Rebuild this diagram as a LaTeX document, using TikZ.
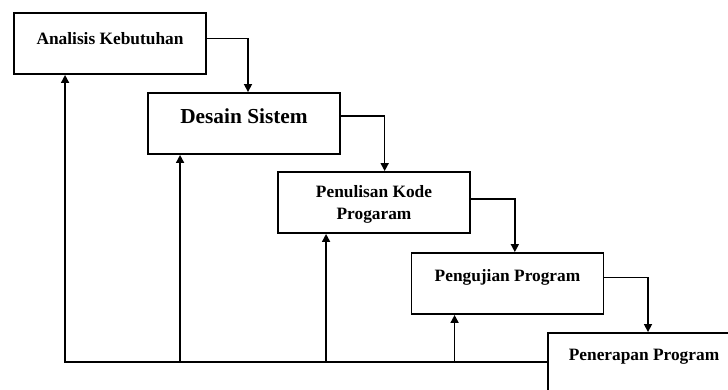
\documentclass[tikz,border=0pt]{standalone}
\usepackage{fontspec}
\setmainfont{Liberation Serif}
\usepackage{tikz}
\usetikzlibrary{arrows.meta, positioning}

\begin{document}
\begin{tikzpicture}[
    x=0.75pt, y=-0.75pt,
    box/.style={rectangle, draw, line width=1.4pt, minimum width=144pt, minimum height=45.75pt, inner sep=0pt},
    lbl/.style={font=\fontsize{13}{16}\selectfont\bfseries, align=center, inner sep=0pt},
    flow/.style={line width=1.2pt, -{Triangle[length=6pt, width=6pt]}}
]
    \useasboundingbox (0,0) rectangle (728,389);
    \begin{scope}
    \clip (0,0) rectangle (728,389);

    % tahapan
    \node (ak) [box] at (110,43.5) {};
    \node (ds) [box] at (244,123.5) {};
    \node (pk) [box] at (374,202.5) {};
    \node (pp) [box] at (507.5,283.5) {};
    \node (ps) [box] at (644,363.5) {};

    \node (akt) [lbl, below=15pt of ak.north] {Analisis Kebutuhan};
    \node (dst) [lbl, below=12pt of ds.north, font=\fontsize{16}{19}\selectfont\bfseries] {Desain Sistem};
    \node (pkt) [lbl, at=(pk.center), yshift=-1.5pt] {Penulisan Kode\\[1pt]Progaram};
    \node (ppt) [lbl, below=13pt of pp.north] {Pengujian Program};
    \node (pst) [lbl, below=12.5pt of ps.north] {Penerapan Program};

    % alur maju
    \draw [flow] (akt -| ak.east) -| ([xshift=3pt]ds.north);
    \draw [flow] (dst -| ds.east) -| ([xshift=8pt]pk.north);
    \draw [flow] ([yshift=4pt]pkt -| pk.east) -| ([xshift=5.5pt]pp.north);
    \draw [flow] (ppt -| pp.east) -| ([xshift=3pt]ps.north);

    % umpan balik
    \coordinate (fb) at ([yshift=1pt]ps.west);
    \coordinate (ak-in) at ([xshift=39pt]ak.south west);
    \coordinate (ds-in) at ([xshift=24.75pt]ds.south west);
    \coordinate (pk-in) at ([xshift=36.75pt]pk.south west);
    \coordinate (pp-in) at ([xshift=33pt]pp.south west);
    \draw [flow] (fb) -| (ak-in);
    \draw [flow] (ds-in |- fb) -- (ds-in);
    \draw [flow] (pk-in |- fb) -- (pk-in);
    \draw [flow] (pp-in |- fb) -- (pp-in);
    \end{scope}
\end{tikzpicture}
\end{document}
